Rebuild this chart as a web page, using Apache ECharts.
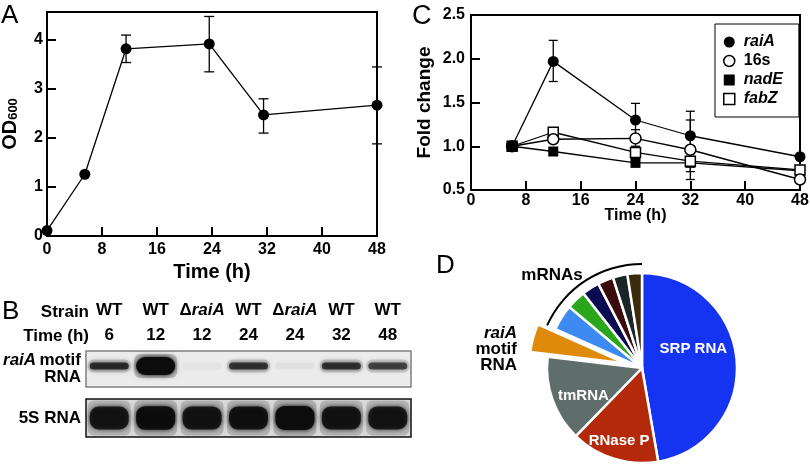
<!DOCTYPE html>
<html><head><meta charset="utf-8">
<script src="https://cdn.jsdelivr.net/npm/echarts@6/dist/echarts.min.js"></script>
<style>html,body{margin:0;padding:0;background:#fff}#c{width:810px;height:468px}</style>
</head><body><div id="c"></div>
<script>
// ---------- Panel A: growth ----------
const timeA = [0, 5.5, 11.5, 23.6, 31.5, 48];
const odA   = [0.11, 1.26, 3.82, 3.92, 2.47, 2.67];
const odLo  = [null, null, 3.54, 3.35, 2.10, 1.88];
const odHi  = [null, null, 4.10, 4.48, 2.80, 3.45];

// ---------- Panel C: fold change ----------
const timeC  = [6, 12, 24, 32, 48];
const raiA   = [1.00, 1.97, 1.30, 1.12, 0.88];
const raiALo = [null, 1.74, 1.12, 0.84, null];
const raiAHi = [null, 2.21, 1.49, 1.40, null];
const s16    = [1.00, 1.08, 1.09, 0.96, 0.62];
const s16Lo  = [null, null, 1.00, 0.62, null];
const s16Hi  = [null, null, 1.19, 1.30, null];
const nadE   = [1.00, 0.94, 0.81, 0.81, 0.72];
const fabZ   = [1.00, 1.16, 0.93, 0.83, 0.73];
const fabZLo = [null, null, null, 0.71, null];
const fabZHi = [null, null, null, 0.95, null];

// ---------- Panel B: northern blot ----------
const laneStrain = ['WT', 'WT', 'ΔraiA', 'WT', 'ΔraiA', 'WT', 'WT'];
const laneTime   = ['6', '12', '12', '24', '24', '32', '48'];
const raiaSignal = [0.75, 1.00, 0.03, 0.70, 0.04, 0.72, 0.62];
const s5Signal   = [0.85, 0.95, 0.88, 0.90, 0.97, 0.88, 0.85];

// ---------- Panel D: pie ----------
const pieNames  = ['SRP RNA', 'RNase P', 'tmRNA', 'raiA motif RNA', 'mRNA 1', 'mRNA 2', 'mRNA 3', 'mRNA 4', 'mRNA 5', 'mRNA 6'];
const pieValues = [46.0, 14.6, 14.2, 4.7, 4.3, 3.2, 2.9, 2.6, 2.4, 2.4];
const pieColors = ['#1534f2', '#b3290a', '#5f6e6a', '#e08a0c', '#3d8bf2', '#2aa61c', '#0b0b52', '#3b0c0c', '#1b2525', '#3a2b0c'];

const FF = 'Liberation Sans, Arial, sans-serif';
const chart = echarts.init(document.getElementById('c'), null, {renderer: 'canvas'});

function errData(xs, lo, hi) {
  const out = [];
  xs.forEach((x, i) => { if (lo[i] != null) out.push([x, lo[i], hi[i]]); });
  return out;
}
function errRender(capW) {
  return function (params, api) {
    const x = api.value(0);
    const p1 = api.coord([x, api.value(1)]);
    const p2 = api.coord([x, api.value(2)]);
    const st = {stroke: '#000', lineWidth: 1.3};
    return {type: 'group', children: [
      {type: 'line', shape: {x1: p1[0], y1: p1[1], x2: p2[0], y2: p2[1]}, style: st},
      {type: 'line', shape: {x1: p1[0] - capW / 2, y1: p1[1], x2: p1[0] + capW / 2, y2: p1[1]}, style: st},
      {type: 'line', shape: {x1: p2[0] - capW / 2, y1: p2[1], x2: p2[0] + capW / 2, y2: p2[1]}, style: st}
    ]};
  };
}
function blotRender(thick, dy, halo) {
  return function (params, api) {
    const i = api.value(0), v = api.value(2);
    const c = api.coord([i, 0]);
    const sz = api.size([1, 1]);
    const w = sz[0] * 0.84;
    const h = thick(v);
    return {type: 'group', children: [
      {type: 'rect', shape: {x: c[0] - w / 2 - 2, y: c[1] + dy - h / 2 - halo, width: w + 4, height: h + 2 * halo, r: 6},
        style: {fill: 'rgba(0,0,0,' + (v * 0.18) + ')', shadowBlur: 10, shadowColor: 'rgba(0,0,0,' + (v * 0.35) + ')'}},
      {type: 'rect', shape: {x: c[0] - w / 2, y: c[1] + dy - h / 2, width: w, height: h, r: Math.min(h / 2, 9)},
        style: {fill: 'rgba(12,12,12,' + v + ')', shadowBlur: 5, shadowColor: 'rgba(0,0,0,' + v + ')'}}
    ]};
  };
}
function pairs(xs, ys) { return xs.map((x, i) => [x, ys[i]]); }

const axisLineBlack = {show: true, lineStyle: {color: '#000', width: 2}};
const tickIn = {show: true, inside: true, length: 9, lineStyle: {color: '#000', width: 2}};
const laneRich = {
  n: {fontFamily: FF, fontWeight: 'bold', fontSize: 17, color: '#000'},
  d: {fontFamily: FF, fontWeight: 'bold', fontSize: 17, color: '#000'},
  i: {fontFamily: FF, fontWeight: 'bold', fontStyle: 'italic', fontSize: 17, color: '#000'}
};

const mSum = pieValues.slice(4).reduce((a, b) => a + b, 0);
const otherSum = pieValues.slice(0, 4).reduce((a, b) => a + b, 0);

const option = {
  animation: false,
  textStyle: {fontFamily: FF},
  grid: [
    {left: 47, top: 12, width: 330, height: 224, show: true, borderColor: '#000', borderWidth: 2, backgroundColor: '#fff', outerBoundsMode: 'none', containLabel: false},
    {left: 471, top: 15, width: 329, height: 175, show: true, borderColor: '#000', borderWidth: 2, backgroundColor: '#fff', outerBoundsMode: 'none', containLabel: false},
    {left: 86, top: 351, width: 325, height: 36, show: true, borderColor: '#808080', borderWidth: 1.5, backgroundColor: '#ececec', outerBoundsMode: 'none', containLabel: false},
    {left: 86, top: 399, width: 325, height: 38, show: true, borderColor: '#111', borderWidth: 1.5, backgroundColor: '#dcdcdc', outerBoundsMode: 'none', containLabel: false}
  ],
  xAxis: [
    {gridIndex: 0, type: 'value', min: 0, max: 48, interval: 8, axisLine: axisLineBlack, axisTick: tickIn, splitLine: {show: false},
      axisLabel: {color: '#000', fontWeight: 'bold', fontSize: 16, margin: 6, fontFamily: FF},
      name: 'Time (h)', nameLocation: 'middle', nameGap: 26, nameMoveOverlap: false,
      nameTextStyle: {color: '#000', fontWeight: 'bold', fontSize: 20, fontFamily: FF}},
    {gridIndex: 1, type: 'value', min: 0, max: 48, interval: 8, axisLine: axisLineBlack, axisTick: tickIn, splitLine: {show: false},
      axisLabel: {color: '#000', fontWeight: 'bold', fontSize: 16, margin: 3, fontFamily: FF},
      name: 'Time (h)', nameLocation: 'middle', nameGap: 18, nameMoveOverlap: false,
      nameTextStyle: {color: '#000', fontWeight: 'bold', fontSize: 16, fontFamily: FF}},
    {gridIndex: 2, type: 'category', position: 'top', data: laneTime, axisLine: {show: false}, axisTick: {show: false},
      axisLabel: {margin: 7, formatter: v => '{n|' + v + '}', rich: laneRich, interval: 0}},
    {gridIndex: 2, type: 'category', position: 'top', data: laneStrain, axisLine: {show: false}, axisTick: {show: false},
      axisLabel: {margin: 32, interval: 0, rich: laneRich,
        formatter: v => v.charAt(0) === 'Δ' ? '{d|Δ}{i|' + v.slice(1) + '}' : '{n|' + v + '}'}},
    {gridIndex: 3, type: 'category', data: laneTime, show: false}
  ],
  yAxis: [
    {gridIndex: 0, type: 'value', min: 0, max: 4.571, interval: 1, axisLine: axisLineBlack, axisTick: tickIn, splitLine: {show: false},
      axisLabel: {color: '#000', fontWeight: 'bold', fontSize: 16, margin: 4, fontFamily: FF,
        formatter: v => (Math.abs(v - Math.round(v)) < 1e-6 ? String(Math.round(v)) : '')},
      name: '{m|OD}{s|600}', nameLocation: 'middle', nameRotate: 90, nameGap: 27, nameMoveOverlap: false,
      nameTextStyle: {rich: {
        m: {fontFamily: FF, fontWeight: 'bold', fontSize: 20, color: '#000', lineHeight: 20, verticalAlign: 'middle'},
        s: {fontFamily: FF, fontWeight: 'bold', fontSize: 13, color: '#000', lineHeight: 20, verticalAlign: 'bottom'}}}},
    {gridIndex: 1, type: 'value', min: 0.5, max: 2.5, interval: 0.5, axisLine: axisLineBlack, axisTick: tickIn, splitLine: {show: false},
      axisLabel: {color: '#000', fontWeight: 'bold', fontSize: 16, margin: 6, fontFamily: FF, formatter: v => v.toFixed(1)},
      name: 'Fold change', nameLocation: 'middle', nameRotate: 90, nameGap: 37, nameMoveOverlap: false,
      nameTextStyle: {color: '#000', fontWeight: 'bold', fontSize: 19, fontFamily: FF}},
    {gridIndex: 2, type: 'category', data: ['raiA motif RNA'], axisLine: {show: false}, axisTick: {show: false},
      axisLabel: {margin: 5, align: 'right', formatter: () => '{i|raiA} {n|motif}\n{n|RNA}',
        rich: {n: {fontFamily: FF, fontWeight: 'bold', fontSize: 17, color: '#000', lineHeight: 17, align: 'right'},
               i: {fontFamily: FF, fontWeight: 'bold', fontStyle: 'italic', fontSize: 17, color: '#000', lineHeight: 17, align: 'right'}}}},
    {gridIndex: 3, type: 'category', data: ['5S RNA'], axisLine: {show: false}, axisTick: {show: false},
      axisLabel: {margin: 5, color: '#000', fontWeight: 'bold', fontSize: 17, fontFamily: FF}}
  ],
  legend: {
    left: 715, top: 24, orient: 'vertical', selectedMode: false,
    backgroundColor: '#fff', borderColor: '#000', borderWidth: 1, borderRadius: 0,
    padding: [10, 16, 10, 8], itemGap: 3, itemWidth: 11, itemHeight: 11,
    textStyle: {fontFamily: FF, fontWeight: 'bold', fontSize: 16, color: '#000',
      rich: {i: {fontFamily: FF, fontWeight: 'bold', fontStyle: 'italic', fontSize: 16, color: '#000', padding: [0, 0, 0, 4]},
             n: {fontFamily: FF, fontWeight: 'bold', fontSize: 16, color: '#000', padding: [0, 0, 0, 4]}}},
    formatter: name => name === '16s' ? '{n|16s}' : '{i|' + name + '}',
    data: [
      {name: 'raiA', icon: 'circle', itemStyle: {color: '#000', borderWidth: 0}},
      {name: '16s', icon: 'circle', itemStyle: {color: '#fff', borderColor: '#000', borderWidth: 1.5}},
      {name: 'nadE', icon: 'rect', itemStyle: {color: '#000', borderWidth: 0}},
      {name: 'fabZ', icon: 'rect', itemStyle: {color: '#fff', borderColor: '#000', borderWidth: 1.5}}
    ]
  },
  series: [
    // Panel A
    {type: 'custom', xAxisIndex: 0, yAxisIndex: 0, z: 1, clip: false, renderItem: errRender(10),
      data: errData(timeA, odLo, odHi), encode: {x: 0, y: [1, 2]}},
    {type: 'line', xAxisIndex: 0, yAxisIndex: 0, z: 3, clip: false, data: pairs(timeA, odA),
      symbol: 'circle', symbolSize: 11, itemStyle: {color: '#000'}, lineStyle: {color: '#000', width: 1.3}},
    // Panel C error bars
    {type: 'custom', xAxisIndex: 1, yAxisIndex: 1, z: 1, clip: false, renderItem: errRender(9),
      data: errData(timeC, raiALo, raiAHi).concat(errData(timeC, s16Lo, s16Hi), errData(timeC, fabZLo, fabZHi)), encode: {x: 0, y: [1, 2]}},
    {name: 'nadE', type: 'line', xAxisIndex: 1, yAxisIndex: 1, z: 3, clip: false, data: pairs(timeC, nadE),
      symbol: 'rect', symbolSize: 10, itemStyle: {color: '#000'}, lineStyle: {color: '#000', width: 1.3}},
    {name: 'fabZ', type: 'line', xAxisIndex: 1, yAxisIndex: 1, z: 3, clip: false, data: pairs(timeC, fabZ),
      symbol: 'rect', symbolSize: 10, itemStyle: {color: '#fff', borderColor: '#000', borderWidth: 1.5}, lineStyle: {color: '#000', width: 1.3}},
    {name: '16s', type: 'line', xAxisIndex: 1, yAxisIndex: 1, z: 3, clip: false, data: pairs(timeC, s16),
      symbol: 'circle', symbolSize: 11, itemStyle: {color: '#fff', borderColor: '#000', borderWidth: 1.5}, lineStyle: {color: '#000', width: 1.3}},
    {name: 'raiA', type: 'line', xAxisIndex: 1, yAxisIndex: 1, z: 4, clip: false, data: pairs(timeC, raiA),
      symbol: 'circle', symbolSize: 11, itemStyle: {color: '#000'}, lineStyle: {color: '#000', width: 1.3}},
    // Panel B blots
    {type: 'custom', xAxisIndex: 2, yAxisIndex: 2, clip: true,
      renderItem: blotRender(v => (v > 0.9 ? 18 : 7), -3, 3), data: raiaSignal.map((v, i) => [i, 0, v])},
    {type: 'custom', xAxisIndex: 4, yAxisIndex: 3, clip: true,
      renderItem: blotRender(v => 16 + v * 8, 0, 6), data: s5Signal.map((v, i) => [i, 0, v])},
    // Panel D pie
    {type: 'pie', center: [642, 368], radius: [0, 95], startAngle: 90, clockwise: true, avoidLabelOverlap: false,
      selectedMode: 'single', selectedOffset: 18, silent: true,
      emphasis: {disabled: true, scale: false},
      itemStyle: {borderColor: '#fff', borderWidth: 2.5},
      label: {show: false},
      labelLine: {show: false},
      labelLayout: function (p) {
        const d = {0: [1, -15], 1: [-8, 25], 2: [-11, 11]}[p.dataIndex];
        return d ? {dx: d[0], dy: d[1]} : {};
      },
      data: pieValues.map((v, i) => ({
        name: pieNames[i], value: v, selected: i === 3,
        itemStyle: {color: pieColors[i]},
        label: i < 3 ? {show: true, position: 'inside', color: '#fff', fontFamily: FF, fontWeight: 'bold', fontSize: 15, formatter: '{b}'} : {show: false}
      }))},
    {type: 'pie', center: [642, 368], radius: [103, 105], startAngle: 90, clockwise: true, silent: true,
      emphasis: {disabled: true}, label: {show: false}, labelLine: {show: false},
      itemStyle: {borderWidth: 0},
      data: [{value: otherSum, itemStyle: {color: 'rgba(0,0,0,0)'}}, {value: mSum, itemStyle: {color: '#000'}}]}
  ],
  graphic: [
    {type: 'text', z: 10, style: {x: 1, y: 16, text: 'A', font: '26px ' + FF, fill: '#000', textVerticalAlign: 'middle'}},
    {type: 'text', z: 10, style: {x: 412, y: 17, text: 'C', font: '27px ' + FF, fill: '#000', textVerticalAlign: 'middle'}},
    {type: 'text', z: 10, style: {x: 2, y: 312, text: 'B', font: '26px ' + FF, fill: '#000', textVerticalAlign: 'middle'}},
    {type: 'text', z: 10, style: {x: 436, y: 266, text: 'D', font: '26px ' + FF, fill: '#000', textVerticalAlign: 'middle'}},
    {type: 'text', z: 10, style: {x: 89, y: 312, text: 'Strain', font: 'bold 17px ' + FF, fill: '#000', textAlign: 'right', textVerticalAlign: 'middle'}},
    {type: 'text', z: 10, style: {x: 89, y: 336, text: 'Time (h)', font: 'bold 17px ' + FF, fill: '#000', textAlign: 'right', textVerticalAlign: 'middle'}},
    {type: 'text', z: 10, style: {x: 552, y: 275, text: 'mRNAs', font: 'bold 17px ' + FF, fill: '#000', textAlign: 'center', textVerticalAlign: 'middle'}},
    {type: 'text', z: 10, style: {x: 517, y: 349, text: '{i|raiA}\n{n|motif}\n{n|RNA}', textAlign: 'right', textVerticalAlign: 'middle',
      rich: {i: {fontFamily: FF, fontWeight: 'bold', fontStyle: 'italic', fontSize: 17, fill: '#000', lineHeight: 16, align: 'right'},
             n: {fontFamily: FF, fontWeight: 'bold', fontSize: 17, fill: '#000', lineHeight: 16, align: 'right'}}}}
  ]
};
chart.setOption(option);
</script>
</body></html>
